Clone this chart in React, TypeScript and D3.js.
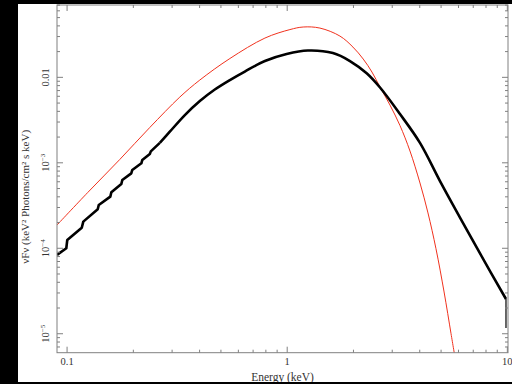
import React from 'react';
import * as d3 from 'd3';

// Black model spectrum (absorbed, with edges) – energy (keV) and nuFnu values
const blackEnergy = [0.09, 0.0992, 0.1002, 0.1166, 0.1185, 0.1378, 0.1393, 0.1572, 0.1589, 0.1764, 0.1782, 0.1957, 0.1978, 0.2175, 0.2197, 0.2376, 0.2401, 0.2638, 0.2929, 0.3428, 0.401, 0.469, 0.549, 0.642, 0.792, 0.994, 1.242, 1.613, 1.928, 2.296, 2.64, 3.253, 4.01, 4.944, 6.095, 7.515, 9.86, 9.86];
const blackFlux = [8.35e-5, 1.0e-4, 1.25e-4, 1.74e-4, 2.05e-4, 2.86e-4, 3.21e-4, 4.02e-4, 4.52e-4, 5.65e-4, 6.3e-4, 7.53e-4, 8.24e-4, 9.86e-4, 1.08e-3, 1.27e-3, 1.36e-3, 1.71e-3, 2.31e-3, 3.62e-3, 5.28e-3, 7.2e-3, 9.3e-3, 0.01169, 0.01551, 0.01873, 0.02058, 0.01924, 0.01551, 0.01114, 7.6e-3, 3.72e-3, 1.71e-3, 6.12e-4, 2.29e-4, 8.69e-5, 2.55e-5, 1.17e-5];

// Red model spectrum (unabsorbed)
const redEnergy = [0.09, 0.1242, 0.1736, 0.2376, 0.3253, 0.401, 0.549, 0.792, 1.029, 1.182, 1.408, 1.736, 1.989, 2.215, 2.427, 2.64, 2.93, 3.253, 3.612, 4.01, 4.36, 4.74, 5.16, 5.55, 5.79];
const redFlux = [1.87e-4, 4.5e-4, 1.094e-3, 2.59e-3, 5.88e-3, 9.3e-3, 0.0166, 0.0288, 0.0362, 0.0388, 0.0377, 0.0304, 0.0226, 0.01637, 0.01153, 7.7e-3, 4.74e-3, 2.73e-3, 1.374e-3, 5.81e-4, 2.59e-4, 9.9e-5, 3.08e-5, 1.0e-5, 5.21e-6];

const xMajorTicks = [0.1, 1, 10];
const xTickLabels = ['0.1', '1', '10'];
const xMinorTicks = [0.2, 0.3, 0.4, 0.5, 0.6, 0.7, 0.8, 0.9, 2, 3, 4, 5, 6, 7, 8, 9];
const yMajorTicks = [1e-2, 1e-3, 1e-4, 1e-5];
const yTickBase = ['0.01', '10', '10', '10'];
const yTickExp = ['', '−3', '−4', '−5'];
const yMinorTicks = [7e-6, 8e-6, 9e-6, 2e-5, 3e-5, 4e-5, 5e-5, 6e-5, 7e-5, 8e-5, 9e-5, 2e-4, 3e-4, 4e-4, 5e-4, 6e-4, 7e-4, 8e-4, 9e-4, 2e-3, 3e-3, 4e-3, 5e-3, 6e-3, 7e-3, 8e-3, 9e-3, 2e-2, 3e-2, 4e-2, 5e-2, 6e-2, 7e-2];

const xTitle = 'Energy (keV)';
const yTitle = 'νFν (keV² Photons/cm² s keV)';

// index where the absorption-edge staircase ends and the smooth continuum begins
const STEP_END = 17;

export default function App() {
  const W = 512, H = 384;
  const L = 57, R = 508, T = 5, B = 352.7;
  const x = d3.scaleLog().domain([0.09, 10.07]).range([L, R]);
  const y = d3.scaleLog().domain([6.0e-6, 0.0702]).range([B, T]);

  const pts = (es: number[], fs: number[]) => es.map((e, i) => [e, fs[i]] as [number, number]);
  const mk = (curve: d3.CurveFactory) => d3.line<[number, number]>().x(d => x(d[0])).y(d => y(d[1])).curve(curve);

  const black = pts(blackEnergy, blackFlux);
  const n = black.length;
  const blackSteps = mk(d3.curveLinear)(black.slice(0, STEP_END + 1)) || '';
  const blackSmooth = mk(d3.curveCatmullRom.alpha(0.5))(black.slice(STEP_END, n - 1)) || '';
  const blackTail = mk(d3.curveLinear)(black.slice(n - 2)) || '';
  const redPath = mk(d3.curveCatmullRom.alpha(0.5))(pts(redEnergy, redFlux)) || '';

  const axisColor = '#808080';
  const textColor = '#333';
  const font = '"Liberation Serif", "DejaVu Serif", serif';
  const maj = 6, mnr = 3;

  return (
    <svg width={W} height={H} style={{ position: 'absolute', left: 0, top: 0 }} fontFamily={font}>
      <rect x={0} y={0} width={W} height={H} fill="#000" />
      <rect x={18} y={4} width={494} height={378} fill="#fff" />
      <defs>
        <clipPath id="plotclip">
          <rect x={L} y={T} width={R - L} height={B - T} />
        </clipPath>
      </defs>
      <g clipPath="url(#plotclip)">
        <path d={redPath} fill="none" stroke="#f0321e" strokeWidth={1} />
        <g fill="none" stroke="#000" strokeWidth={2.6} strokeLinejoin="round">
          <path d={blackSteps} />
          <path d={blackSmooth} />
          <path d={blackTail} strokeWidth={1.2} />
        </g>
      </g>
      {/* frame */}
      <rect x={L} y={T} width={R - L} height={B - T} fill="none" stroke={axisColor} strokeWidth={1} />
      {/* x ticks */}
      {xMajorTicks.map((t, i) => (
        <g key={'xM' + i}>
          <line x1={x(t)} x2={x(t)} y1={B} y2={B - maj} stroke={axisColor} />
          <line x1={x(t)} x2={x(t)} y1={T} y2={T + maj} stroke={axisColor} />
          <text x={x(t)} y={365} fontSize={10.5} textAnchor="middle" fill={textColor}>{xTickLabels[i]}</text>
        </g>
      ))}
      {xMinorTicks.map((t, i) => (
        <g key={'xm' + i}>
          <line x1={x(t)} x2={x(t)} y1={B} y2={B - mnr} stroke={axisColor} />
          <line x1={x(t)} x2={x(t)} y1={T} y2={T + mnr} stroke={axisColor} />
        </g>
      ))}
      {/* y ticks */}
      {yMajorTicks.map((t, i) => (
        <g key={'yM' + i}>
          <line x1={L} x2={L + maj} y1={y(t)} y2={y(t)} stroke={axisColor} />
          <line x1={R} x2={R - maj} y1={y(t)} y2={y(t)} stroke={axisColor} />
          <text transform={`translate(48.5,${y(t)}) rotate(-90)`} fontSize={10.5} textAnchor="middle" fill={textColor}>
            {yTickBase[i]}
            {yTickExp[i] ? <tspan fontSize={7} dy={-4}>{yTickExp[i]}</tspan> : null}
          </text>
        </g>
      ))}
      {yMinorTicks.map((t, i) => (
        <g key={'ym' + i}>
          <line x1={L} x2={L + mnr} y1={y(t)} y2={y(t)} stroke={axisColor} />
          <line x1={R} x2={R - mnr} y1={y(t)} y2={y(t)} stroke={axisColor} />
        </g>
      ))}
      {/* titles */}
      <text x={(L + R) / 2} y={380.5} fontSize={11.5} textAnchor="middle" fill={textColor}>{xTitle}</text>
      <text transform={`translate(29,${(T + B) / 2 + 18}) rotate(-90)`} fontSize={11} textAnchor="middle" fill={textColor}>{yTitle}</text>
      <rect x={0} y={382} width={W} height={2} fill="#000" />
    </svg>
  );
}
